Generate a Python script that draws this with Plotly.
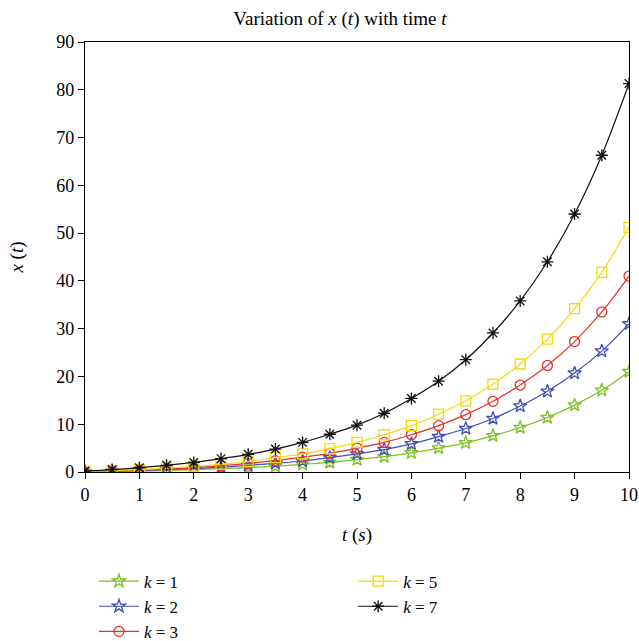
import plotly.graph_objects as go

t = [0, 0.5, 1, 1.5, 2, 2.5, 3, 3.5, 4, 4.5, 5, 5.5, 6, 6.5, 7, 7.5, 8, 8.5, 9, 9.5, 10]
k1 = [0.0, 0.1, 0.2, 0.3, 0.5, 0.7, 0.9, 1.2, 1.6, 2.0, 2.6, 3.2, 4.0, 5.0, 6.1, 7.6, 9.3, 11.4, 14.0, 17.1, 21.0]
k2 = [0.05, 0.15, 0.3, 0.5, 0.7, 1.0, 1.4, 1.8, 2.3, 3.0, 3.8, 4.7, 5.9, 7.4, 9.1, 11.2, 13.8, 16.9, 20.7, 25.3, 31.0]
k3 = [0.1, 0.2, 0.4, 0.6, 0.9, 1.3, 1.8, 2.4, 3.1, 3.9, 5.0, 6.2, 7.8, 9.7, 12.0, 14.8, 18.2, 22.3, 27.3, 33.5, 41.0]
k5 = [0.1, 0.3, 0.5, 0.8, 1.2, 1.6, 2.2, 3.0, 3.8, 4.9, 6.2, 7.8, 9.7, 12.1, 14.9, 18.4, 22.6, 27.8, 34.2, 41.8, 51.2]
k7 = [0.2, 0.5, 0.9, 1.4, 2.0, 2.8, 3.7, 4.8, 6.2, 7.9, 9.8, 12.3, 15.4, 19.0, 23.5, 29.1, 35.8, 44.0, 54.0, 66.3, 81.3]

series = [
    ("<i>k</i> = 1", k1, "#7cc21e", "star-open", "legend"),
    ("<i>k</i> = 2", k2, "#4150b4", "star-open", "legend"),
    ("<i>k</i> = 3", k3, "#e8302a", "circle-open", "legend"),
    ("<i>k</i> = 5", k5, "#f5d90a", "square-open", "legend2"),
    ("<i>k</i> = 7", k7, "#111111", "asterisk-open", "legend2"),
]

FONT = "Liberation Serif"
fig = go.Figure()
for name, ys, col, sym, lg in series:
    fig.add_trace(go.Scatter(
        x=t, y=ys, name=name, mode="lines+markers",
        line=dict(color=col, width=1.2, shape="spline"),
        marker=dict(symbol=sym, size=10, color=col, line=dict(width=1.3, color=col)),
        legend=lg,
    ))

axis_common = dict(showline=True, linecolor="black", linewidth=1.2, mirror=True,
                   ticks="outside", ticklen=6, tickcolor="black", showgrid=False,
                   zeroline=False, automargin=False,
                   tickfont=dict(size=18, family=FONT, color="black"))

fig.update_layout(
    width=639, height=641,
    margin=dict(l=85, r=10, t=42, b=169, autoexpand=False),
    paper_bgcolor="white", plot_bgcolor="white",
    font=dict(family=FONT, color="black", size=17),
    title=dict(text="Variation of <i>x</i> (<i>t</i>) with time <i>t</i>", x=0.532, xanchor="center",
               y=0.972, yanchor="middle", font=dict(size=19, family=FONT)),
    xaxis=dict(range=[0, 10], dtick=1, title=dict(text="<i>t</i> (<i>s</i>)", standoff=23,
               font=dict(size=19, family=FONT)), **axis_common),
    yaxis=dict(range=[0, 90], dtick=10, title=dict(text="<i>x</i> (<i>t</i>)", standoff=27,
               font=dict(size=19, family=FONT)), **axis_common),
    legend=dict(x=0.0165, y=-0.213, xanchor="left", yanchor="top", bgcolor="rgba(0,0,0,0)",
                font=dict(size=17, family=FONT), tracegroupgap=0, itemwidth=40),
    legend2=dict(x=0.493, y=-0.213, xanchor="left", yanchor="top", bgcolor="rgba(0,0,0,0)",
                 font=dict(size=17, family=FONT), tracegroupgap=0, itemwidth=40),
)

fig.write_html("out.html", config={"displayModeBar": False},
               post_script="document.body.style.margin='0';document.body.style.overflow='hidden';")
